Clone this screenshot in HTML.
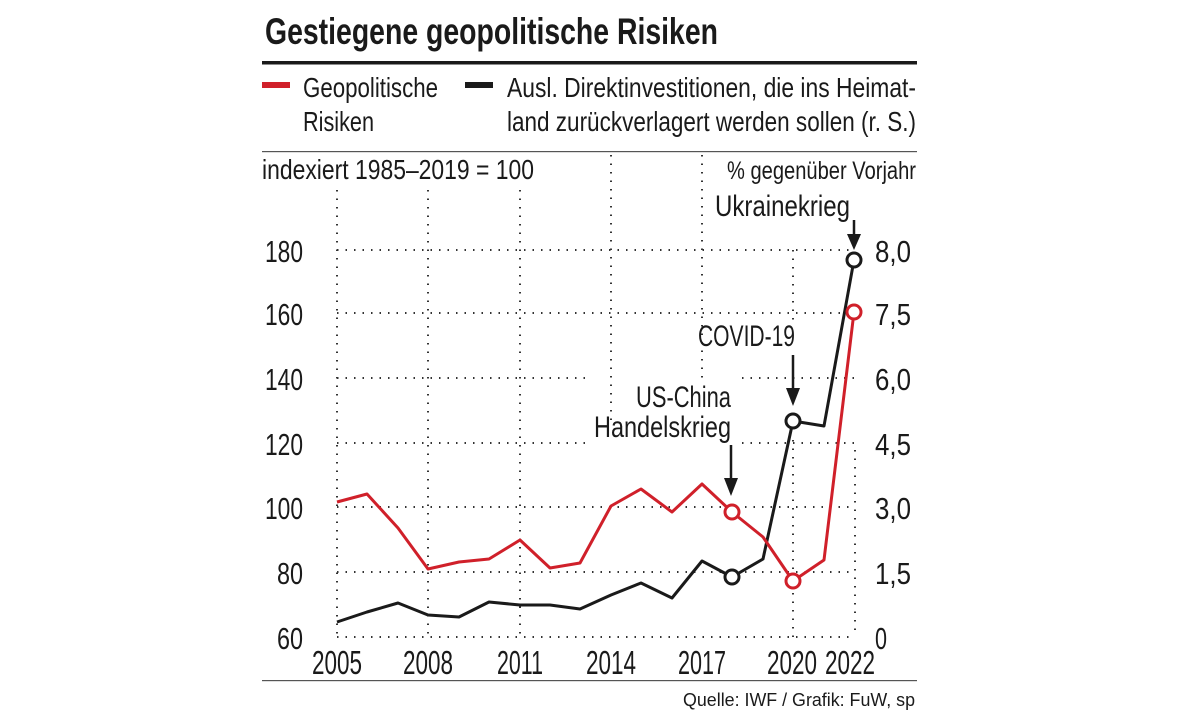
<!DOCTYPE html>
<html><head><meta charset="utf-8"><style>
html,body{margin:0;padding:0;background:#fff}
svg{display:block}
text{font-family:"Liberation Sans",sans-serif;fill:#1a1a1a}
</style></head><body>
<svg width="1179" height="713" viewBox="0 0 1179 713" xmlns="http://www.w3.org/2000/svg">
<text x="265" y="44" font-size="37" font-weight="bold" textLength="453" lengthAdjust="spacingAndGlyphs">Gestiegene geopolitische Risiken</text>
<rect x="262" y="61" width="655" height="3.5" fill="#1a1a1a"/>
<rect x="262" y="82" width="28" height="6" fill="#d0202a"/>
<rect x="465" y="82" width="28" height="6" fill="#1a1a1a"/>
<g font-size="28">
<text x="303" y="97" textLength="135" lengthAdjust="spacingAndGlyphs">Geopolitische</text>
<text x="303" y="131" textLength="71" lengthAdjust="spacingAndGlyphs">Risiken</text>
<text x="507" y="97" textLength="409" lengthAdjust="spacingAndGlyphs">Ausl. Direktinvestitionen, die ins Heimat-</text>
<text x="507" y="131" textLength="409" lengthAdjust="spacingAndGlyphs">land zurückverlagert werden sollen (r. S.)</text>
</g>
<rect x="262" y="151" width="655" height="1.2" fill="#555"/>
<text x="262" y="179" font-size="28" textLength="272" lengthAdjust="spacingAndGlyphs">indexiert 1985–2019 = 100</text>
<text x="727" y="179" font-size="25" textLength="189" lengthAdjust="spacingAndGlyphs">% gegenüber Vorjahr</text>
<g stroke="#333" stroke-width="2" stroke-dasharray="1.5 7" fill="none">
<line x1="337" y1="190" x2="337" y2="637"/>
<line x1="428" y1="190" x2="428" y2="637"/>
<line x1="520" y1="190" x2="520" y2="637"/>
<line x1="611" y1="155" x2="611" y2="420"/>
<line x1="702" y1="155" x2="702" y2="380"/>
<line x1="793" y1="250" x2="793" y2="325"/>
<line x1="793" y1="440" x2="793" y2="637"/>
<line x1="855" y1="450" x2="855" y2="637"/>
<line x1="337" y1="250" x2="855" y2="250"/>
<line x1="337" y1="313" x2="855" y2="313"/>
<line x1="337" y1="378" x2="590" y2="378"/>
<line x1="742" y1="378" x2="855" y2="378"/>
<line x1="337" y1="443" x2="590" y2="443"/>
<line x1="742" y1="443" x2="855" y2="443"/>
<line x1="337" y1="507" x2="855" y2="507"/>
<line x1="337" y1="572" x2="855" y2="572"/>
<line x1="337" y1="637" x2="855" y2="637"/>
</g>
<g font-size="31" text-anchor="end">
<text x="303" y="262" textLength="38" lengthAdjust="spacingAndGlyphs">180</text>
<text x="303" y="325" textLength="38" lengthAdjust="spacingAndGlyphs">160</text>
<text x="303" y="390" textLength="38" lengthAdjust="spacingAndGlyphs">140</text>
<text x="303" y="455" textLength="38" lengthAdjust="spacingAndGlyphs">120</text>
<text x="303" y="519" textLength="38" lengthAdjust="spacingAndGlyphs">100</text>
<text x="303" y="584" textLength="26" lengthAdjust="spacingAndGlyphs">80</text>
<text x="303" y="649" textLength="26" lengthAdjust="spacingAndGlyphs">60</text>
</g>
<g font-size="31">
<text x="875" y="262" textLength="36" lengthAdjust="spacingAndGlyphs">8,0</text>
<text x="875" y="325" textLength="36" lengthAdjust="spacingAndGlyphs">7,5</text>
<text x="875" y="390" textLength="36" lengthAdjust="spacingAndGlyphs">6,0</text>
<text x="875" y="455" textLength="36" lengthAdjust="spacingAndGlyphs">4,5</text>
<text x="875" y="519" textLength="36" lengthAdjust="spacingAndGlyphs">3,0</text>
<text x="875" y="584" textLength="36" lengthAdjust="spacingAndGlyphs">1,5</text>
<text x="875" y="649" textLength="12" lengthAdjust="spacingAndGlyphs">0</text>
</g>
<g font-size="33" text-anchor="middle">
<text x="337" y="674" textLength="50" lengthAdjust="spacingAndGlyphs">2005</text>
<text x="428" y="674" textLength="50" lengthAdjust="spacingAndGlyphs">2008</text>
<text x="520" y="674" textLength="46" lengthAdjust="spacingAndGlyphs">2011</text>
<text x="611" y="674" textLength="50" lengthAdjust="spacingAndGlyphs">2014</text>
<text x="702" y="674" textLength="48" lengthAdjust="spacingAndGlyphs">2017</text>
<text x="792" y="674" textLength="50" lengthAdjust="spacingAndGlyphs">2020</text>
<text x="850" y="674" textLength="50" lengthAdjust="spacingAndGlyphs">2022</text>
</g>
<polyline fill="none" stroke="#1a1a1a" stroke-width="3" stroke-linejoin="round" points="337,622 367,612 398,603 428,615 459,617 489,602 520,605 550,605 580,609 611,595 641,583 672,598 702,561 732,577 763,559 793,421 824,426 854,260"/>
<polyline fill="none" stroke="#d0202a" stroke-width="3" stroke-linejoin="round" points="337,502 367,494 398,528 428,569 459,562 489,559 520,540 550,568 580,563 611,506 641,489 672,512 702,484 732,512 763,537 793,581 824,560 854,312"/>
<g fill="#fff" stroke-width="3">
<circle cx="732" cy="577" r="7" stroke="#1a1a1a"/>
<circle cx="793" cy="421" r="7" stroke="#1a1a1a"/>
<circle cx="854" cy="260" r="7" stroke="#1a1a1a"/>
<circle cx="732" cy="512" r="7" stroke="#d0202a"/>
<circle cx="793" cy="581" r="7" stroke="#d0202a"/>
<circle cx="854" cy="312" r="7" stroke="#d0202a"/>
</g>
<g font-size="30">
<text x="715" y="216" textLength="135" lengthAdjust="spacingAndGlyphs">Ukrainekrieg</text>
<text x="698" y="346" textLength="97" lengthAdjust="spacingAndGlyphs">COVID-19</text>
<text x="636" y="407" textLength="95" lengthAdjust="spacingAndGlyphs">US-China</text>
<text x="594" y="437" textLength="137" lengthAdjust="spacingAndGlyphs">Handelskrieg</text>
</g>
<g stroke="#1a1a1a" stroke-width="2.5">
<line x1="854" y1="220" x2="854" y2="238"/>
<line x1="793" y1="355" x2="793" y2="392"/>
<line x1="731" y1="445" x2="731" y2="482"/>
</g>
<g fill="#1a1a1a">
<polygon points="847,234 861,234 854,250"/>
<polygon points="786,388 800,388 793,406"/>
<polygon points="724,478 738,478 731,496"/>
</g>
<rect x="262" y="680" width="655" height="1.2" fill="#555"/>
<text x="915" y="706" font-size="18" text-anchor="end" fill="#333" textLength="232" lengthAdjust="spacingAndGlyphs">Quelle: IWF / Grafik: FuW, sp</text>
</svg>
</body></html>
